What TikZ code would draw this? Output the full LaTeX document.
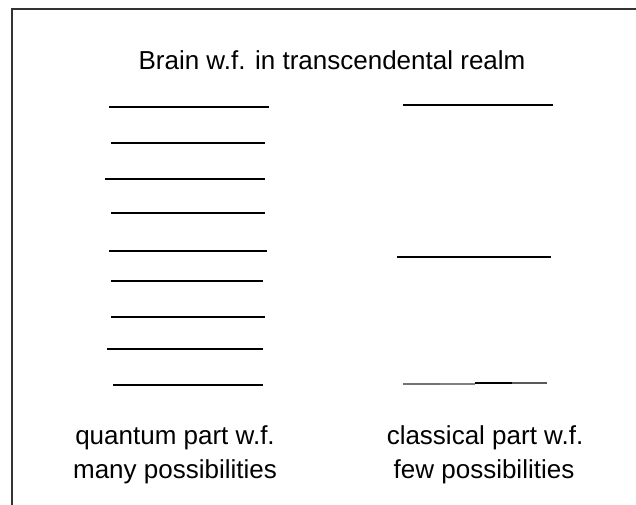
\documentclass[tikz,border=0pt]{standalone}
\usepackage{fontspec}
\setmainfont{Liberation Sans}
\begin{document}
\begin{tikzpicture}[x=1pt,y=-1pt,
  level/.style={line width=2pt,black},
  frameline/.style={line width=2pt,draw=black!80},
  lbl/.style={anchor=base,inner sep=0pt,font=\fontsize{26}{34}\selectfont}]
\useasboundingbox (0,0) rectangle (636,504);
\fill[white] (0,0) rectangle (636,504);
% frame (extends past right and bottom edges)
\draw[frameline] (11.5,506) -- (11.5,9) -- (638,9);
% title
\node[lbl] (title) at (332,69) {Brain w.f. in transcendental realm};
% quantum levels
\draw[level] (109,107) -- (269,107);
\draw[level] (111,143) -- (265,143);
\draw[level] (105,179) -- (265,179);
\draw[level] (111,213) -- (265,213);
\draw[level] (109,251) -- (267,251);
\draw[level] (111,281) -- (263,281);
\draw[level] (111,317) -- (265,317);
\draw[level] (107,349) -- (263,349);
\draw[level] (113,385) -- (263,385);
% classical levels
\draw[level] (403,105) -- (553,105);
\draw[level] (397,257) -- (551,257);
\draw[line width=2.5pt,black!55] (403,384) -- (440,384);
\draw[line width=2pt,black!50] (440,383.5) -- (475,383.5);
\draw[line width=1.5pt,black] (475,383) -- (512,383);
\draw[line width=2pt,black!65] (512,382.5) -- (547,382.5);
% captions
\node[lbl] (q1) at (175,444) {quantum part w.f.};
\node[lbl] (q2) at (175,478) {many possibilities};
\node[lbl] (c1) at (485,444) {classical part w.f.};
\node[lbl] (c2) at (484,478) {few possibilities};
\end{tikzpicture}
\end{document}
